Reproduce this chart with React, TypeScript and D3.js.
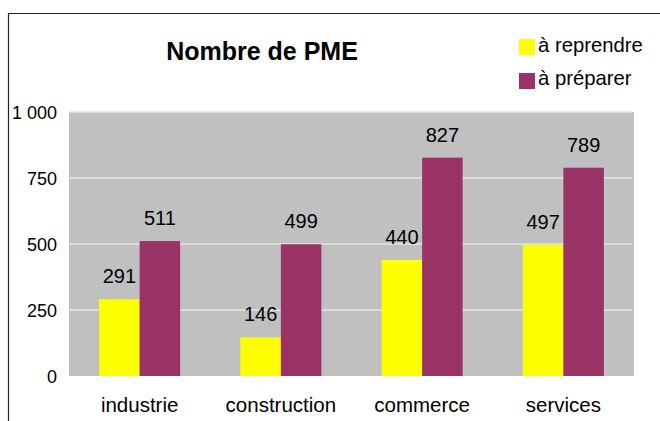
import React from "react";
import * as d3 from "d3";

const categories = ["industrie", "construction", "commerce", "services"];
const seriesNames = ["à reprendre", "à préparer"];
const reprendre = [291, 146, 440, 497];
const preparer = [511, 499, 827, 789];
const yTicks = [0, 250, 500, 750, 1000];
const yTickLabels = ["0", "250", "500", "750", "1 000"];
const colors = ["#ffff00", "#993366"];

const W = 660;
const H = 421;
const FONT = "'Liberation Sans', Arial, Helvetica, sans-serif";

export default function App() {
  const plot = { left: 69, right: 634, top: 112, bottom: 376 };
  const x = d3.scaleBand<string>().domain(categories).range([plot.left, plot.right]).padding(0);
  const groupW = 81;
  const bw = x.bandwidth();
  const xs = d3
    .scaleBand<string>()
    .domain(seriesNames)
    .range([(bw - groupW) / 2, (bw + groupW) / 2])
    .padding(0);
  const y = d3.scaleLinear().domain([0, 1000]).range([plot.bottom, plot.top]);
  const series = [reprendre, preparer];

  return (
    <svg
      width={W}
      height={H}
      style={{ position: "absolute", left: 0, top: 0, background: "#fff" }}
      fontFamily={FONT}
    >
      {/* chart border */}
      <path d={`M8.5,${H + 2} V13.5 H${W + 2}`} fill="none" stroke="#222" strokeWidth={1.2} />

      {/* title */}
      <text x={262} y={60} textAnchor="middle" fontSize={25} fontWeight="bold" fill="#000">
        Nombre de PME
      </text>

      {/* legend */}
      {seriesNames.map((s, i) => (
        <g key={s}>
          <rect x={519} y={39 + i * 34} width={16} height={16} fill={colors[i]} />
          <text x={538} y={52 + i * 33} fontSize={20.3} fill="#000">
            {s}
          </text>
        </g>
      ))}

      {/* plot area */}
      <rect
        x={plot.left}
        y={plot.top}
        width={plot.right - plot.left}
        height={plot.bottom - plot.top}
        fill="#c0c0c0"
      />
      {yTicks.slice(1).map((t) => (
        <line
          key={t}
          x1={plot.left}
          x2={plot.right - 2}
          y1={y(t)}
          y2={y(t)}
          stroke="#e6e6e6"
          strokeWidth={1.5}
        />
      ))}

      {/* y tick labels */}
      {yTicks.map((t, i) => (
        <text
          key={t}
          x={57}
          y={y(t) + 6.5}
          textAnchor="end"
          fontSize={18}
          fill="#000"
        >
          {yTickLabels[i]}
        </text>
      ))}

      {/* bars */}
      {categories.map((c, ci) => (
        <g key={c} transform={`translate(${x(c)},0)`}>
          {seriesNames.map((s, si) => {
            const v = series[si][ci];
            const bx = xs(s) as number;
            return (
              <g key={s}>
                <rect
                  x={bx}
                  y={y(v)}
                  width={xs.bandwidth()}
                  height={y(0) - y(v)}
                  fill={colors[si]}
                />
                <text
                  x={bx + xs.bandwidth() / 2}
                  y={y(v) - 16}
                  textAnchor="middle"
                  fontSize={20}
                  fill="#000"
                >
                  {v}
                </text>
              </g>
            );
          })}
        </g>
      ))}

      {/* category labels */}
      {categories.map((c) => (
        <text
          key={c}
          x={(x(c) as number) + bw / 2}
          y={412}
          textAnchor="middle"
          fontSize={20.5}
          fill="#000"
        >
          {c}
        </text>
      ))}
    </svg>
  );
}
